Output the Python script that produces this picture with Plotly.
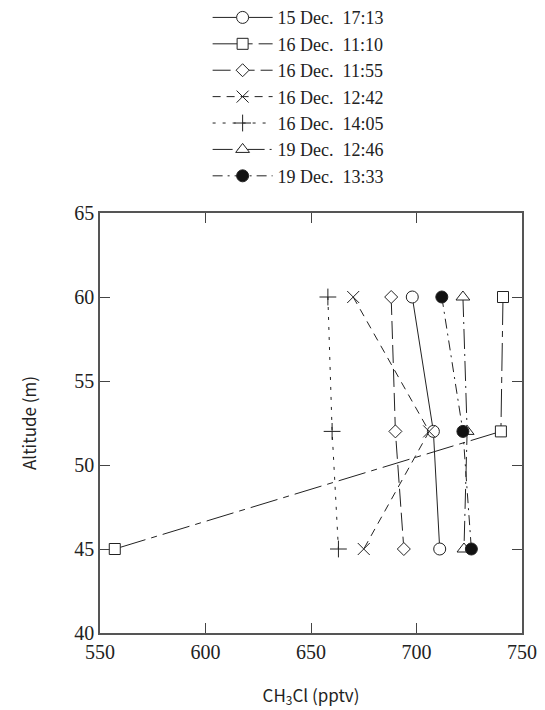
import plotly.graph_objects as go

altitude = [60, 52, 45]
labels = ["15 Dec.\u00a0\u00a017:13", "16 Dec.\u00a0\u00a011:10", "16 Dec.\u00a0\u00a011:55",
          "16 Dec.\u00a0\u00a012:42", "16 Dec.\u00a0\u00a014:05", "19 Dec.\u00a0\u00a012:46",
          "19 Dec.\u00a0\u00a013:33"]
s_1513 = [698, 708, 711]
s_1110 = [741, 740, 557]
s_1155 = [688, 690, 694]
s_1242 = [670, 706, 675]
s_1405 = [658, 660, 663]
s_1246 = [722, 724, 722.5]
s_1333 = [712, 722, 726]

series = [s_1513, s_1110, s_1155, s_1242, s_1405, s_1246, s_1333]
styles = [
    dict(symbol="circle", fill="white", dash="solid", size=12),
    dict(symbol="square", fill="white", dash="28px,6px,6px,6px", size=11),
    dict(symbol="diamond", fill="white", dash="18px,6px", size=10),
    dict(symbol="x-thin-open", fill=None, dash="8px,6px", size=12),
    dict(symbol="cross-thin-open", fill=None, dash="3px,7px", size=12),
    dict(symbol="triangle-up", fill="white", dash="20px,5px,2px,5px", size=12),
    dict(symbol="circle", fill="#111", dash="10px,5px,2px,5px", size=12),
]

serif = "Liberation Serif"
sans = "Noto Sans CJK JP"
ink = "#222"
fig = go.Figure()
for name, vals, st in zip(labels, series, styles):
    if st["fill"] is None:
        marker = dict(symbol=st["symbol"], size=st["size"], color=ink,
                      line=dict(color=ink, width=1))
    else:
        marker = dict(symbol=st["symbol"], size=st["size"], color=st["fill"],
                      line=dict(color=ink, width=1))
    fig.add_trace(go.Scatter(x=vals, y=altitude, name=name, mode="lines+markers",
                             line=dict(color=ink, width=1, dash=st["dash"]),
                             marker=marker))

axis_common = dict(showgrid=False, zeroline=False, showline=True, linecolor="#555",
                   linewidth=1.5, mirror="ticks", ticks="inside", ticklen=10,
                   tickcolor="#444", tickwidth=1)

fig.update_layout(
    width=545, height=710,
    font=dict(family=serif, size=18, color="#222"),
    margin=dict(l=100, r=23, t=213, b=77, autoexpand=False),
    paper_bgcolor="white", plot_bgcolor="white",
    xaxis=dict(range=[550, 750], dtick=50, **axis_common,
               title=dict(text="CH<sub>3</sub>Cl (pptv)", standoff=28,
                          font=dict(family=sans, size=17, color="#222"))),
    yaxis=dict(range=[40, 65], dtick=5, **axis_common,
               title=dict(text="Altitude (m)", standoff=33,
                          font=dict(family=sans, size=17, color="#222"))),
    legend=dict(x=0.255, y=1.509, xanchor="left", yanchor="top",
                font=dict(family=serif, size=18, color="#222"),
                itemwidth=60, tracegroupgap=0, bgcolor="rgba(0,0,0,0)"),
    showlegend=True,
)
fig.update_xaxes(tickfont=dict(family=serif, size=20, color="#222"))
fig.update_yaxes(tickfont=dict(family=serif, size=20, color="#222"))

fig.write_html("out.html")
